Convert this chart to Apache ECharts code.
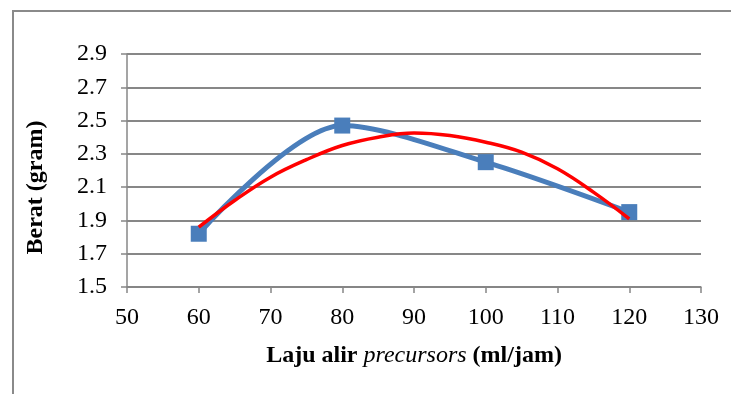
<!DOCTYPE html>
<html lang="en">
<head>
    <meta charset="UTF-8">
    <title>Berat vs Laju alir precursors</title>
    <script src="https://cdn.jsdelivr.net/npm/echarts@6.0.0/dist/echarts.min.js"></script>
    <style>
        body { margin: 0; background: #fff; }
        #chart { width: 731px; height: 394px; }
    </style>
</head>
<body>
    <div id="chart"></div>
    <script>
// data
const flowRate = [60, 80, 100, 120];
const weight = [1.82, 2.47, 2.25, 1.95];
// polynomial trend line (red), read at several x positions
const trendX = [60, 65, 70, 75, 80, 85, 90, 95, 100, 105, 110, 115, 120];
const trendY = [1.86, 2.02, 2.16, 2.265, 2.35, 2.40, 2.425, 2.41, 2.37, 2.31, 2.21, 2.07, 1.91];
const yTicks = [1.5, 1.7, 1.9, 2.1, 2.3, 2.5, 2.7, 2.9];

const myChart = echarts.init(document.getElementById('chart'));

const labelFont = { fontFamily: 'Liberation Serif', fontSize: 24, color: '#000' };
const axisGray = '#878787';

const option = {
    animation: false,
    backgroundColor: '#fff',
    graphic: [{
        type: 'rect',
        shape: { x: 13, y: 11, width: 760, height: 420 },
        style: { fill: 'none', stroke: '#8a8a8a', lineWidth: 2 },
        silent: true
    }],
    grid: { left: 127, right: 30, top: 54, bottom: 107 },
    xAxis: {
        type: 'value',
        min: 50,
        max: 130,
        interval: 10,
        name: '{b|Laju alir }{i|precursors}{b| (ml/jam)}',
        nameLocation: 'middle',
        nameGap: 57,
        nameTextStyle: {
            rich: {
                b: { fontFamily: 'Liberation Serif', fontSize: 24, fontWeight: 'bold', color: '#000' },
                i: { fontFamily: 'Liberation Serif', fontSize: 24, fontStyle: 'italic', color: '#000' }
            }
        },
        axisLine: { lineStyle: { color: axisGray, width: 1.5 } },
        axisTick: { show: true, length: 6, lineStyle: { color: axisGray, width: 1.5 } },
        axisLabel: Object.assign({ margin: 19 }, labelFont),
        splitLine: { show: false }
    },
    yAxis: {
        type: 'value',
        min: 1.5,
        max: 2.9,
        interval: 0.2,
        name: 'Berat (gram)',
        nameLocation: 'middle',
        nameGap: 79,
        nameTextStyle: {
            fontFamily: 'Liberation Serif', fontSize: 24, fontWeight: 'bold', color: '#000',
            padding: [0, 34, 0, 0]
        },
        axisLine: { show: true, lineStyle: { color: axisGray, width: 1.5 } },
        axisTick: { show: true, length: 6, customValues: yTicks, lineStyle: { color: axisGray, width: 1.5 } },
        axisLabel: Object.assign({ margin: 20, customValues: yTicks, formatter: v => v.toFixed(1) }, labelFont),
        splitLine: { show: true, lineStyle: { color: axisGray, width: 2 } }
    },
    series: [
        {
            name: 'Berat',
            type: 'line',
            data: flowRate.map((x, i) => [x, weight[i]]),
            smooth: 0.3,
            symbol: 'rect',
            symbolSize: 16,
            lineStyle: { color: '#4a7ebb', width: 5 },
            itemStyle: { color: '#4a7ebb' },
            z: 2
        },
        {
            name: 'Trend',
            type: 'line',
            data: trendX.map((x, i) => [x, trendY[i]]),
            smooth: 0.4,
            showSymbol: false,
            lineStyle: { color: '#ff0000', width: 3.5 },
            z: 3
        }
    ]
};

myChart.setOption(option);
    </script>
</body>
</html>
